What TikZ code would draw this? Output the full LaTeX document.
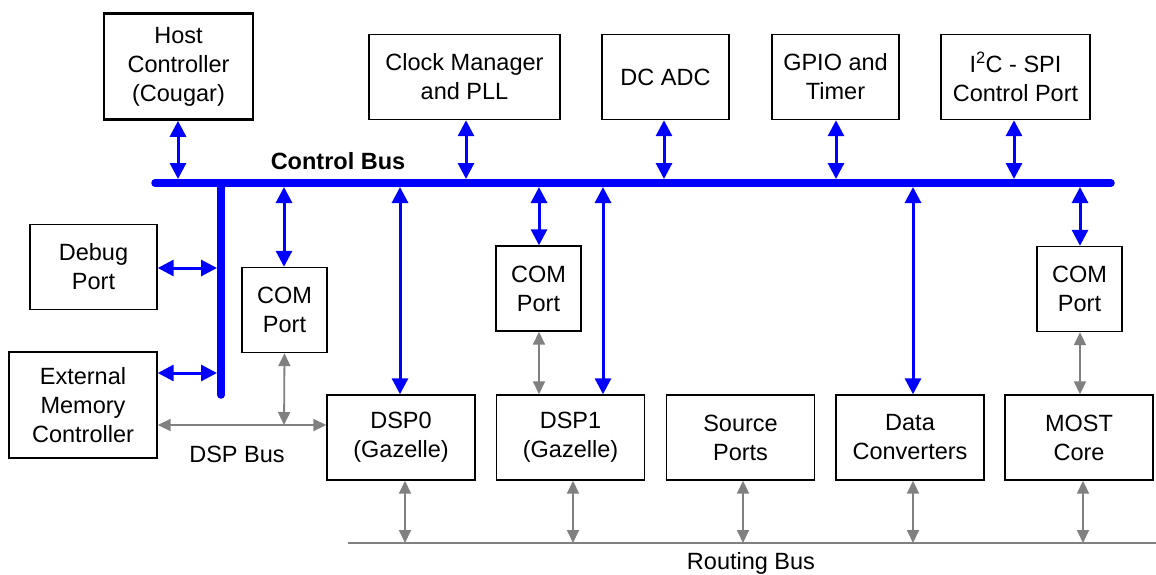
\documentclass[tikz,border=0pt]{standalone}
\usepackage{fontspec}
\setmainfont{Liberation Sans}
\usetikzlibrary{arrows.meta}
\definecolor{busblue}{RGB}{0,0,255}
\definecolor{busgray}{RGB}{128,128,128}
\begin{document}
\begin{tikzpicture}[x=1pt,y=-1pt,
  every node/.style={font=\fontsize{23.5}{29}\selectfont, inner sep=0pt},
  block/.style={draw=black, line width=1.4pt, align=center, minimum height=85pt},
  hostblock/.style={block, line width=2.6pt},
  ctrl/.style={draw=busblue, line width=3pt, {Triangle[length=16pt,width=16pt]}-{Triangle[length=16pt,width=16pt]}},
  data/.style={draw=busgray, line width=1.8pt, {Triangle[length=13pt,width=12pt]}-{Triangle[length=13pt,width=12pt]}},
  mainbus/.style={draw=busblue, line width=7.5pt, line cap=round},
  routebus/.style={draw=busgray, line width=1.6pt}
]
\useasboundingbox (0,0) rectangle (1156,574);

% top row
\node[hostblock, minimum width=149pt, minimum height=106pt] (host) at (178.5,66.5) {Host\\Controller\\(Cougar)};
\node[block, minimum width=191pt] (clock) at (464.5,77) {Clock Manager\\and PLL};
\node[block, minimum width=127pt] (dcadc) at (665.5,77) {DC ADC};
\node[block, minimum width=127pt] (gpio) at (835.5,77) {GPIO and\\Timer};
\node[block, minimum width=149pt] (i2c) at (1015.5,77) {I\textsuperscript{2}C - SPI\\Control Port};

% left side
\node[block, minimum width=127pt] (debug) at (93.5,267) {Debug\\Port};
\node[block, minimum width=148pt, minimum height=106pt] (extmem) at (83,405) {External\\Memory\\Controller};

% COM ports
\node[block, minimum width=85pt] (com1) at (284.5,310) {COM\\Port};
\node[block, minimum width=85pt] (com2) at (538.5,288.5) {COM\\Port};
\node[block, minimum width=85pt] (com3) at (1079.5,289) {COM\\Port};

% bottom row
\node[block, minimum width=148pt] (dsp0) at (401,437.5) {DSP0\\(Gazelle)};
\node[block, minimum width=148pt] (dsp1) at (570.5,437.5) {DSP1\\(Gazelle)};
\node[block, minimum width=148pt] (src) at (740.5,437.5) {Source\\Ports};
\node[block, minimum width=148pt] (dconv) at (910,437.5) {Data\\Converters};
\node[block, minimum width=148pt] (most) at (1079,437.5) {MOST\\Core};

% control bus
\coordinate (cbL) at (155,183);
\coordinate (cbR) at (1111,183);
\coordinate (vbT) at (221,183);
\coordinate (vbB) at (221,395);
\draw[mainbus] (cbL) -- (cbR);
\draw[mainbus] (vbT) -- (vbB);
\node[font=\bfseries\fontsize{23.5}{29}\selectfont] (cblabel) at (338,161) {Control Bus};

% taps above the control bus
\coordinate (tHost) at (178,179);
\coordinate (tClock) at (466,179);
\coordinate (tDcadc) at (664,179);
\coordinate (tGpio) at (836,179);
\coordinate (tI2c) at (1014,179);
\draw[ctrl] (host.south -| tHost) -- (tHost);
\draw[ctrl] (clock.south -| tClock) -- (tClock);
\draw[ctrl] (dcadc.south -| tDcadc) -- (tDcadc);
\draw[ctrl] (gpio.south -| tGpio) -- (tGpio);
\draw[ctrl] (i2c.south -| tI2c) -- (tI2c);

% taps below the control bus
\coordinate (bCom1) at (284,187);
\coordinate (bDsp0) at (400,187);
\coordinate (bCom2) at (539,187);
\coordinate (bDsp1) at (603,187);
\coordinate (bDconv) at (913,187);
\coordinate (bCom3) at (1080,187);
\draw[ctrl] (bCom1) -- (com1.north -| bCom1);
\draw[ctrl] (bDsp0) -- (dsp0.north -| bDsp0);
\draw[ctrl] (bCom2) -- (com2.north -| bCom2);
\draw[ctrl] (bDsp1) -- (dsp1.north -| bDsp1);
\draw[ctrl] (bDconv) -- (dconv.north -| bDconv);
\draw[ctrl] (bCom3) -- (com3.north -| bCom3);

% taps on the vertical bus
\coordinate (vDebug) at (217,268);
\coordinate (vExt) at (217,373);
\draw[ctrl] (debug.east |- vDebug) -- (vDebug);
\draw[ctrl] (extmem.east |- vExt) -- (vExt);

% DSP bus
\coordinate (dspL) at (157,425);
\coordinate (dspJ) at (284,425);
\draw[data] (extmem.east |- dspL) -- (dsp0.west |- dspL);
\draw[data] (com1.south) -- (dspJ);
\node (dsplabel) at (237,454) {DSP Bus};

% COM ports to their cores
\draw[data] (com2.south -| bCom2) -- (dsp1.north -| bCom2);
\draw[data] (com3.south -| bCom3) -- (most.north -| bCom3);

% routing bus
\coordinate (rbL) at (348,543);
\coordinate (rbR) at (1156,543);
\draw[routebus] (rbL) -- (rbR);
\node (rblabel) at (751,563) {Routing Bus};
\coordinate (rDsp0) at (405,543);
\coordinate (rDsp1) at (573,543);
\coordinate (rSrc) at (743,543);
\coordinate (rDconv) at (913,543);
\coordinate (rMost) at (1083,543);
\draw[data] (dsp0.south -| rDsp0) -- (rDsp0);
\draw[data] (dsp1.south -| rDsp1) -- (rDsp1);
\draw[data] (src.south -| rSrc) -- (rSrc);
\draw[data] (dconv.south -| rDconv) -- (rDconv);
\draw[data] (most.south -| rMost) -- (rMost);
\end{tikzpicture}
\end{document}
